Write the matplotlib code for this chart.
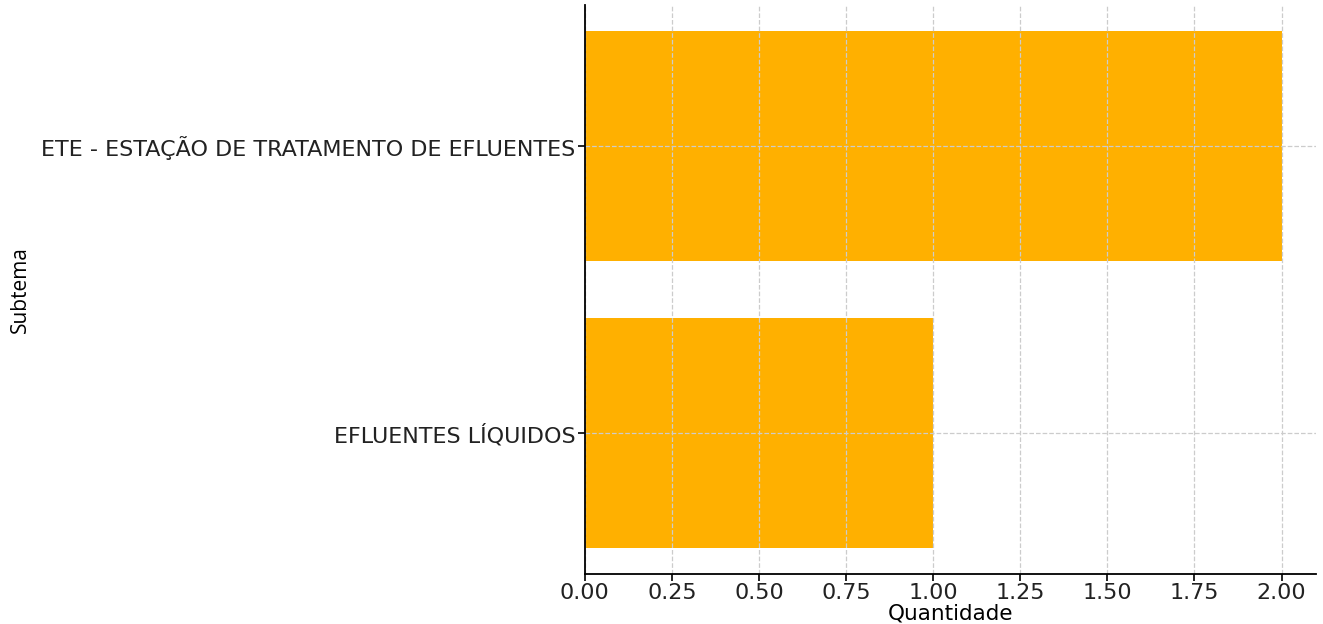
import matplotlib
matplotlib.use("Agg")
import matplotlib.pyplot as plt

subtemas = ["EFLUENTES LÍQUIDOS", "ETE - ESTAÇÃO DE TRATAMENTO DE EFLUENTES"]
quantidades = [1, 2]

plt.rcParams["text.color"] = "#222222"
plt.rcParams["xtick.labelcolor"] = "#222222"
plt.rcParams["ytick.labelcolor"] = "#222222"

fig, ax = plt.subplots(figsize=(13.23, 6.24), dpi=100)
fig.subplots_adjust(left=0.442, right=0.995, top=0.992, bottom=0.08)

ax.barh(subtemas, quantidades, color="#FFB000", height=0.8, zorder=1)
ax.grid(True, linestyle="--", color="#cccccc", linewidth=0.9, zorder=2)
ax.set_axisbelow(False)

ax.set_xlabel("Quantidade", fontsize=15.5, labelpad=0)
ax.set_ylabel("Subtema", fontsize=15, family="Open Sans")
ax.yaxis.set_label_coords(-0.757, 0.5)
ax.tick_params(axis="both", labelsize=16, width=1.2, length=5, pad=1.5)
for s in ["top", "right"]:
    ax.spines[s].set_visible(False)
for s in ["left", "bottom"]:
    ax.spines[s].set_linewidth(1.3)
    ax.spines[s].set_zorder(4)

fig.savefig("out.png", dpi=100)
